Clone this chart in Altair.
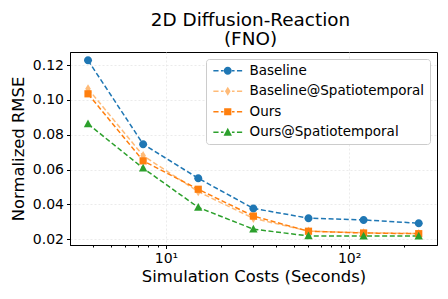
import altair as alt
import pandas as pd

costs = [3.75, 7.5, 15, 30, 60, 120, 240]
series_names = ["Baseline", "Baseline@Spatiotemporal", "Ours", "Ours@Spatiotemporal"]
baseline = [0.1227, 0.0746, 0.0550, 0.0377, 0.0321, 0.0311, 0.0292]
baseline_st = [0.1064, 0.0680, 0.0473, 0.0320, 0.0247, 0.0237, 0.0233]
ours = [0.1035, 0.0650, 0.0487, 0.0333, 0.0246, 0.0236, 0.0232]
ours_st = [0.0862, 0.0608, 0.0383, 0.0258, 0.0219, 0.0218, 0.0218]
colors = ["#1f77b4", "#ffbb78", "#ff7f0e", "#2ca02c"]
y_ticks = [0.02, 0.04, 0.06, 0.08, 0.10, 0.12]
x_ticks = [4, 5, 6, 7, 8, 9, 10, 20, 30, 40, 50, 60, 70, 80, 90, 100, 200]

rows = []
for name, vals in zip(series_names, [baseline, baseline_st, ours, ours_st]):
    for i, (c, v) in enumerate(zip(costs, vals)):
        rows.append({"series": name, "cost": c, "rmse": v, "order": i})
df = pd.DataFrame(rows)

# marker shapes (unit coords)
circle = "M-1,0A1,1,0,1,0,1,0A1,1,0,1,0,-1,0Z"
diamond = "M0,-1.15L0.7,0L0,1.15L-0.7,0Z"
square = "M-0.9,-0.9H0.9V0.9H-0.9Z"
triangle = "M0,-1.1L1.05,0.85H-1.05Z"
markers = [circle, diamond, square, triangle]


def rect(x0, x1, t=0.2):
    return f"M{x0},{-t}H{x1}V{t}H{x0}Z"


dashes = rect(-3.6, -2.3) + rect(-1.7, -1.05) + rect(1.05, 1.7) + rect(2.3, 3.6)
legend_paths = [dashes + m for m in markers]

FONT = "DejaVu Sans"

major_test = "datum.value == 10 || datum.value == 100"
x_enc = alt.X(
    "cost:Q",
    scale=alt.Scale(type="log", domain=[2.99, 302], nice=False),
    axis=alt.Axis(
        title="Simulation Costs (Seconds)",
        values=x_ticks,
        labelExpr="datum.value == 10 ? '10¹' : (datum.value == 100 ? '10²' : '')",
        labelOverlap=False,
        labelFlush=False,
        tickSize={"condition": {"test": major_test, "value": 3.5}, "value": 2},
        gridOpacity={"condition": {"test": major_test, "value": 1}, "value": 0},
    ),
)
y_enc = alt.Y(
    "rmse:Q",
    scale=alt.Scale(domain=[0.0167, 0.1275], nice=False, zero=False),
    axis=alt.Axis(title="Normalized RMSE", values=y_ticks, format=".2f", tickSize=3.5),
)

color_plain = alt.Color("series:N", scale=alt.Scale(domain=series_names, range=colors), legend=None)

lines = alt.Chart(df).mark_line(strokeDash=[5, 2.6], strokeWidth=1.5).encode(
    x=x_enc, y=y_enc, color=color_plain, detail="series:N", order="order:Q"
)
points = alt.Chart(df).mark_point(filled=True, opacity=1, size=64, strokeWidth=0).encode(
    x=x_enc,
    y=y_enc,
    color=color_plain,
    shape=alt.Shape("series:N", scale=alt.Scale(domain=series_names, range=markers), legend=None),
)
legend_layer = alt.Chart(df).transform_filter("false").mark_point(
    filled=True, opacity=1, size=64, strokeWidth=0
).encode(
    x=x_enc,
    y=y_enc,
    color=alt.Color("series:N", scale=alt.Scale(domain=series_names, range=colors),
                    legend=alt.Legend(title=None)),
    shape=alt.Shape("series:N", scale=alt.Scale(domain=series_names, range=legend_paths),
                    legend=alt.Legend(title=None)),
)

chart = (
    alt.layer(lines, points, legend_layer)
    .resolve_scale(color="independent", shape="independent")
    .properties(
        width=367,
        height=193,
        autosize="none",
        padding={"left": 62, "top": 44, "right": 3, "bottom": 46},
        title=alt.TitleParams(
            ["2D Diffusion-Reaction", "(FNO)"],
            fontSize=18.4,
            font=FONT,
            fontWeight="normal",
            anchor="middle",
            frame="group",
            offset=4,
            dx=-3,
            lineHeight=19,
            color="black",
        ),
    )
    .configure_view(stroke="black", strokeWidth=1)
    .configure_axis(
        labelFont=FONT,
        titleFont=FONT,
        labelFontSize=14,
        titleFontSize=16.4,
        titleFontWeight="normal",
        labelColor="black",
        titleColor="black",
        domainColor="black",
        tickColor="black",
        gridColor="#e6e6e6",
        gridDash=[2, 2],
        gridWidth=0.8,
        labelPadding=3,
    )
    .configure_axisX(titlePadding=3)
    .configure_axisY(titlePadding=6)
    .configure_legend(
        orient="top-right",
        offset=7,
        padding=5,
        strokeColor="#cccccc",
        fillColor="white",
        cornerRadius=3,
        labelFont=FONT,
        labelFontSize=13.5,
        labelColor="black",
        labelLimit=400,
        symbolSize=64,
        symbolOffset=10,
        labelOffset=15,
        rowPadding=5.5,
        symbolStrokeWidth=0,
    )
)

chart.save("out.html", embed_options={"renderer": "svg", "actions": False})
